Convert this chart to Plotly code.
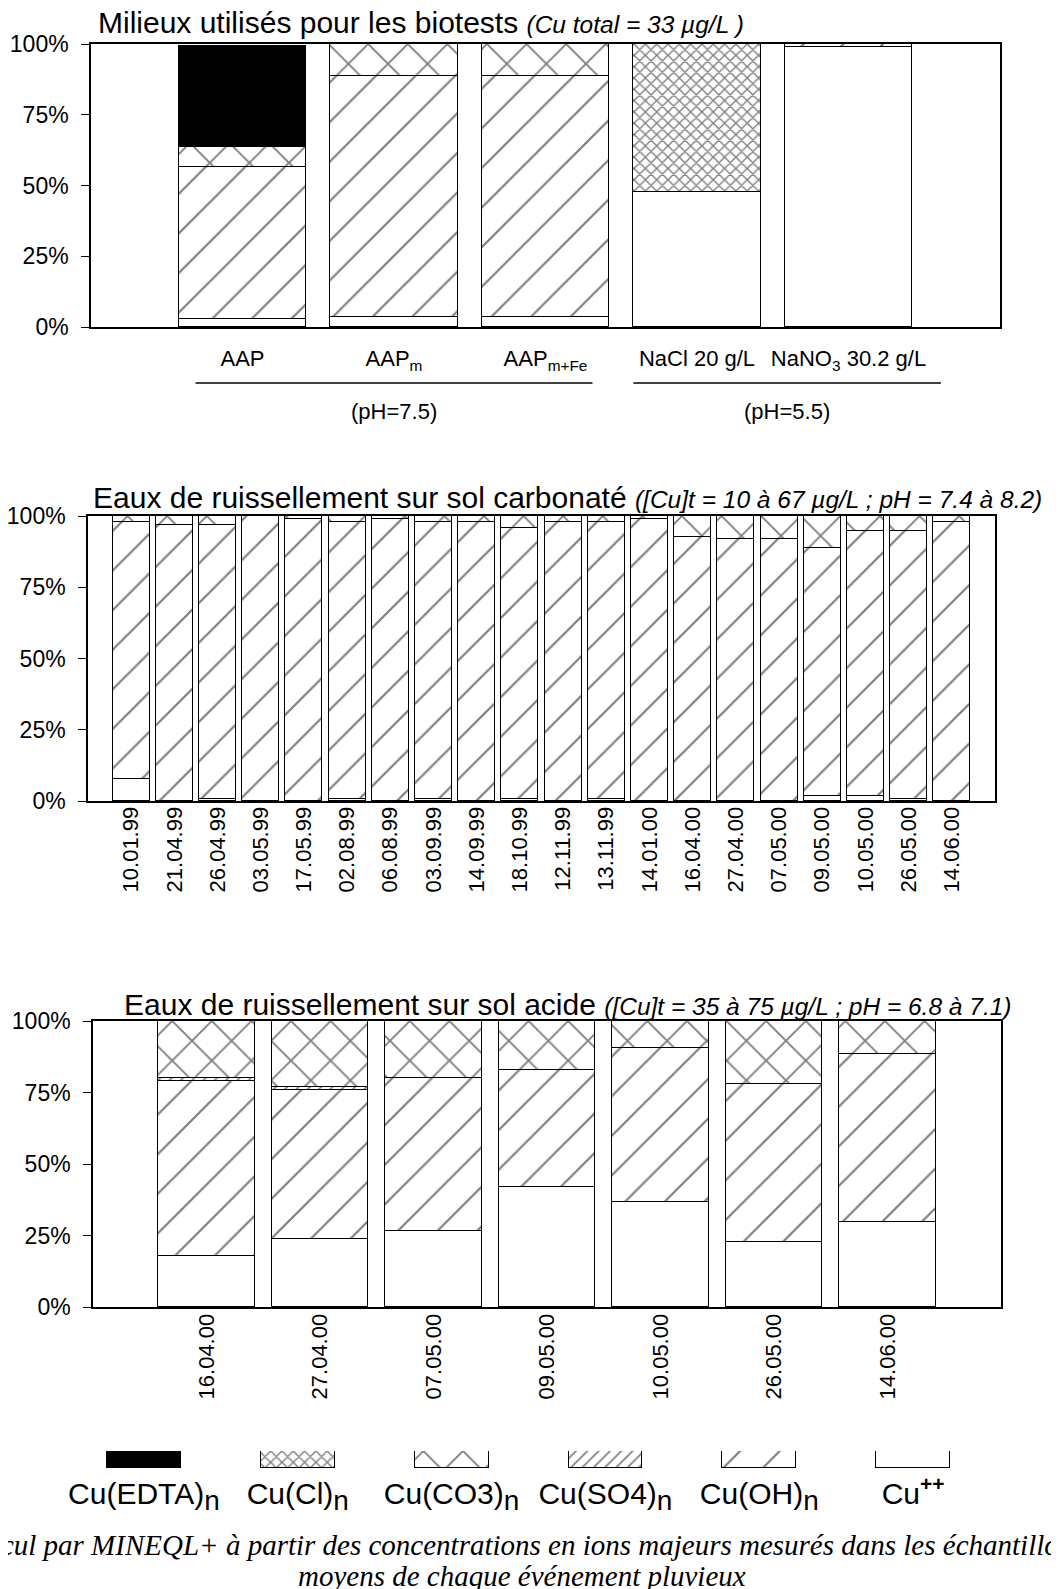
import plotly.graph_objects as go

W, H = 1059, 1589
OFF = 8  # the page shows the figure shifted by the default body margin
SANS = "Liberation Sans, Arial, sans-serif"
SERIF = "Liberation Serif, Times New Roman, serif"

# ---------------- data (percent of total Cu) ----------------
species_keys = ["cupp", "oh", "so4", "co3", "cl", "edta"]          # stacking order, bottom -> top
legend_keys = ["edta", "cl", "co3", "so4", "oh", "cupp"]            # legend order, left -> right
legend_labels = ["Cu(EDTA)<sub><span style='font-size:28px'>n</span></sub>",
                 "Cu(Cl)<sub><span style='font-size:28px'>n</span></sub>",
                 "Cu(CO3)<sub><span style='font-size:28px'>n</span></sub>",
                 "Cu(SO4)<sub><span style='font-size:28px'>n</span></sub>",
                 "Cu(OH)<sub><span style='font-size:28px'>n</span></sub>",
                 "Cu<sup><b>++</b></sup>"]

# Panel 1 : media used for the biotests
media_labels = ["AAP", "AAP<sub>m</sub>", "AAP<sub>m+Fe</sub>", "NaCl 20 g/L",
                "NaNO<sub>3</sub> 30.2 g/L"]
media_cupp = [2.7, 3.7, 3.7, 47.6, 98.8]
media_oh = [54.0, 85.0, 85.0, None, 1.2]
media_so4 = [None, None, None, None, None]
media_co3 = [6.8, 11.3, 11.3, None, None]
media_cl = [None, None, None, 52.4, None]
media_edta = [35.9, None, None, None, None]

# Panel 2 : runoff on carbonated soil
carb_dates = ["10.01.99", "21.04.99", "26.04.99", "03.05.99", "17.05.99", "02.08.99",
              "06.08.99", "03.09.99", "14.09.99", "18.10.99", "12.11.99", "13.11.99",
              "14.01.00", "16.04.00", "27.04.00", "07.05.00", "09.05.00", "10.05.00",
              "26.05.00", "14.06.00"]
carb_cupp = [7.6, None, 0.8, None, None, 0.8, None, 0.8, None, 0.6,
             None, 0.6, None, None, None, None, 1.8, 1.8, 0.6, None]
carb_oh = [90.3, 96.7, 95.9, 100.0, 98.8, 97.1, 98.8, 97.1, 97.9, 95.1,
           97.9, 97.3, 98.8, 92.6, 91.8, 91.8, 86.9, 92.9, 94.1, 97.9]
carb_so4 = [None] * 20
carb_co3 = [2.1, 3.3, 3.3, None, 1.2, 2.1, 1.2, 2.1, 2.1, 4.3,
            2.1, 2.1, 1.2, 7.4, 8.2, 8.2, 11.3, 5.3, 5.3, 2.1]
carb_cl = [None] * 20
carb_edta = [None] * 20

# Panel 3 : runoff on acid soil
acid_dates = ["16.04.00", "27.04.00", "07.05.00", "09.05.00", "10.05.00", "26.05.00", "14.06.00"]
acid_cupp = [17.8, 23.7, 26.5, 41.9, 36.7, 22.8, 29.8]
acid_oh = [61.1, 52.3, 53.4, 40.8, 53.9, 55.0, 58.5]
acid_so4 = [1.0, 0.8, None, None, None, None, None]
acid_co3 = [20.1, 23.2, 20.1, 17.3, 9.4, 22.2, 11.7]
acid_cl = [None] * 7
acid_edta = [None] * 7

y_ticks = [0, 25, 50, 75, 100]
y_ticktext = ["0%", "25%", "50%", "75%", "100%"]

# ---------------- styles ----------------
def pat(shape, size, solidity):
    return dict(shape=shape, size=size, solidity=solidity, fgcolor="black",
                bgcolor="white", fillmode="overlay")

STYLE = {
    "cupp": dict(color="white"),
    "oh": dict(color="white", pattern=pat("/", 28, 0.08)),
    "so4": dict(color="white", pattern=pat("/", 8, 0.22)),
    "co3": dict(color="white", pattern=pat("x", 28, 0.13)),
    "cl": dict(color="white", pattern=pat("x", 8, 0.32)),
    "edta": dict(color="black"),
}


def px(x):
    return (x - OFF) / W


def py(y):
    return 1 - (y - OFF) / H


def xdom(a, b):
    return [px(a), px(b)]


def ydom(top, bottom):
    return [py(bottom), py(top)]


panels = [
    dict(ax="", cats=media_labels, width=0.84,
         data=dict(cupp=media_cupp, oh=media_oh, so4=media_so4, co3=media_co3,
                   cl=media_cl, edta=media_edta),
         xd=xdom(91, 1000), yd=ydom(44, 327), angle=0, standoff=11, tfs=22),
    dict(ax="2", cats=carb_dates, width=0.857,
         data=dict(cupp=carb_cupp, oh=carb_oh, so4=carb_so4, co3=carb_co3,
                   cl=carb_cl, edta=carb_edta),
         xd=xdom(88, 995), yd=ydom(516, 801), angle=-90, standoff=-5, tfs=22),
    dict(ax="3", cats=acid_dates, width=0.85,
         data=dict(cupp=acid_cupp, oh=acid_oh, so4=acid_so4, co3=acid_co3,
                   cl=acid_cl, edta=acid_edta),
         xd=xdom(93, 1001), yd=ydom(1021, 1307), angle=-90, standoff=-4, tfs=22),
]

fig = go.Figure()
layout = {}
for p in panels:
    a = p["ax"]
    for k in species_keys:
        fig.add_trace(go.Bar(
            x=p["cats"], y=p["data"][k], width=p["width"],
            xaxis="x" + a, yaxis="y" + a, showlegend=False, hoverinfo="skip",
            marker=dict(line=dict(color="black", width=1.3), **STYLE[k])))
    n = len(p["cats"])
    layout["xaxis" + a] = dict(
        domain=p["xd"], anchor="y" + a, type="category", range=[-1, n],
        showline=True, linecolor="black", linewidth=2, mirror=True,
        showgrid=False, zeroline=False, ticks="", tickangle=p["angle"],
        ticklabelstandoff=p["standoff"], automargin=False,
        tickfont=dict(family=SANS, size=p["tfs"], color="black"))
    layout["yaxis" + a] = dict(
        domain=p["yd"], anchor="x" + a, range=[0, 100], tickvals=y_ticks,
        ticktext=y_ticktext, ticks="outside", ticklen=8, tickcolor="black",
        showline=True, linecolor="black", linewidth=1.5, mirror=True,
        showgrid=False, zeroline=False, ticklabelstandoff=8, automargin=False,
        tickfont=dict(family=SANS, size=23, color="black"))

# legend drawn as a small bar panel (one swatch per species)
for k, lab in zip(legend_keys, legend_labels):
    fig.add_trace(go.Bar(
        x=[lab], y=[1], width=0.48, xaxis="x4", yaxis="y4", showlegend=False,
        hoverinfo="skip", cliponaxis=False,
        marker=dict(line=dict(color="black", width=1.3), **STYLE[k])))
layout["xaxis4"] = dict(domain=xdom(67, 990), anchor="y4", type="category",
                        range=[-0.5, 5.5], showline=False, showgrid=False,
                        zeroline=False, ticks="", ticklabelstandoff=5,
                        automargin=False,
                        tickfont=dict(family=SANS, size=30, color="black"))
layout["yaxis4"] = dict(domain=ydom(1451, 1468), anchor="x4", range=[0, 1],
                        visible=False, automargin=False)

# titles
titles = [
    ("Milieux utilisés pour les biotests",
     "(Cu total = 33 µg/L )", 97, 23),
    ("Eaux de ruissellement sur sol carbonaté",
     "([Cu]t = 10 à 67 µg/L ; pH = 7.4 à 8.2)", 92, 497),
    ("Eaux de ruissellement sur sol acide",
     "([Cu]t = 35 à 75 µg/L ; pH = 6.8 à 7.1)", 123, 1004),
]
annotations = []
for main, sub, x0, yc in titles:
    annotations.append(dict(
        text=main + " <i><span style='font-size:24.5px'>" + sub + "</span></i>",
        xref="paper", yref="paper", x=px(x0), y=py(yc),
        xanchor="left", yanchor="middle", showarrow=False, borderpad=0,
        font=dict(family=SANS, size=30, color="black")))

# pH groups below panel 1
groups = [("(pH=7.5)", -0.31, 2.31), ("(pH=5.5)", 2.58, 4.61)]
shapes = []
for lab, g0, g1 in groups:
    shapes.append(dict(type="line", xref="x", yref="paper", x0=g0, x1=g1,
                       y0=py(383), y1=py(383),
                       line=dict(color="black", width=1.3)))
    annotations.append(dict(text=lab, xref="x", yref="paper", x=(g0 + g1) / 2,
                            y=py(411), xanchor="center", yanchor="middle",
                            showarrow=False,
                            font=dict(family=SANS, size=22, color="black")))

# caption
caption = ["Calcul par MINEQL+ à partir des concentrations en ions majeurs mesurés dans les échantillons",
           "moyens de chaque événement pluvieux"]
for i, line in enumerate(caption):
    annotations.append(dict(text="<i>" + line + "</i>", xref="paper", yref="paper",
                            x=px(522), y=py(1545 + 31 * i), xanchor="center",
                            yanchor="middle", showarrow=False,
                            font=dict(family=SERIF, size=29, color="black")))

fig.update_layout(
    width=W, height=H, margin=dict(l=0, r=0, t=0, b=0, autoexpand=False),
    paper_bgcolor="white", plot_bgcolor="white", barmode="stack", bargap=0,
    annotations=annotations, shapes=shapes, showlegend=False, **layout)

fig.write_html("out.html")
